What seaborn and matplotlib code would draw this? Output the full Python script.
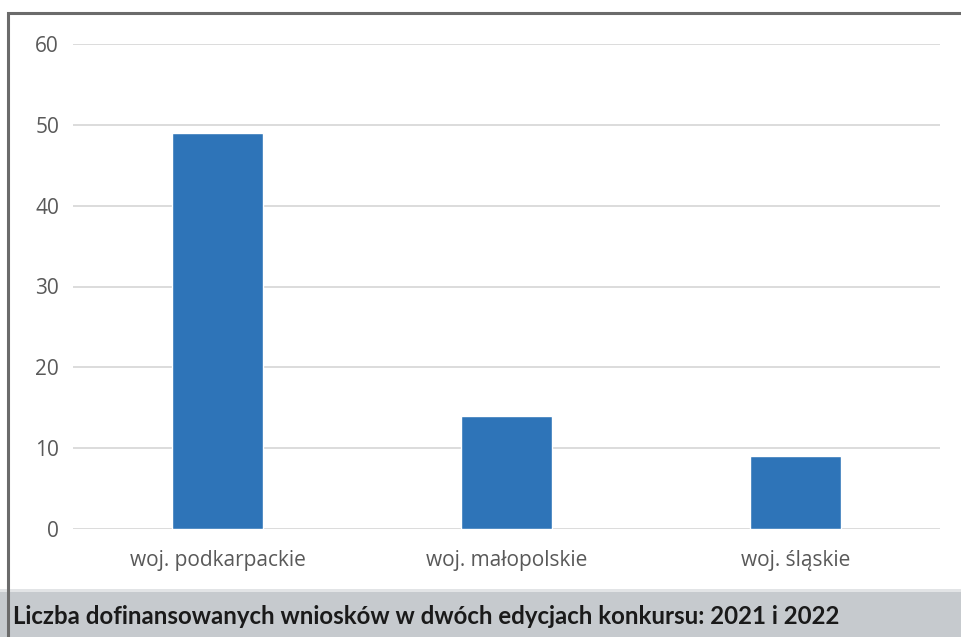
import matplotlib
matplotlib.use("Agg")
import matplotlib.pyplot as plt
from matplotlib.patches import Rectangle
import seaborn as sns
import pandas as pd

categories = ["woj. podkarpackie", "woj. małopolskie", "woj. śląskie"]
values = [49, 14, 9]
yticks = [0, 10, 20, 30, 40, 50, 60]
caption = "Liczba dofinansowanych wniosków w dwóch edycjach konkursu: 2021 i 2022"

sns.set_theme(style="white")
plt.rcParams['font.family'] = ['Open Sans', 'DejaVu Sans']

W, H = 962, 637
fig = plt.figure(figsize=(W / 100, H / 100), dpi=100)
fig.patch.set_facecolor("white")

# caption band
fig.patches.append(Rectangle((0, 0), 1, 46 / H, transform=fig.transFigure,
                             facecolor="#c6cace", edgecolor="none", zorder=0))
fig.patches.append(Rectangle((0, 45 / H), 1, 3 / H, transform=fig.transFigure,
                             facecolor="#e2e4e6", edgecolor="none", zorder=0))
# border
fig.patches.append(Rectangle((8 / W, -0.01), 1.0, 1 - 13 / H + 0.01, transform=fig.transFigure,
                             facecolor="none", edgecolor="#6b6b6b", linewidth=2.2, zorder=5))

ax = fig.add_axes([73 / W, 1 - 529 / H, (940 - 73) / W, (529 - 44) / H])
df = pd.DataFrame({"cat": categories, "val": values})
sns.barplot(data=df, x="cat", y="val", color="#2e74b8", saturation=1, width=0.315, ax=ax, zorder=3)

ax.set_ylim(0, 60)
ax.set_yticks(yticks)
ax.set_xlim(-0.5, 2.5)
ax.yaxis.grid(True, color="#d9d9d9", linewidth=1.3, zorder=0)
ax.set_axisbelow(True)
for s in ax.spines.values():
    s.set_visible(False)
ax.set_xlabel("")
ax.set_ylabel("")
ax.tick_params(axis="both", length=0, labelsize=15, colors="#595959")
ax.tick_params(axis="y", pad=10)
ax.tick_params(axis="x", pad=15)
ax.set_facecolor("none")

fig.text(13 / W, 21 / H, caption, fontsize=17.3, fontweight="bold", color="#1a1a1a",
         family=['Lato', 'DejaVu Sans'], va="center", ha="left")

fig.savefig("out.png", dpi=100)
